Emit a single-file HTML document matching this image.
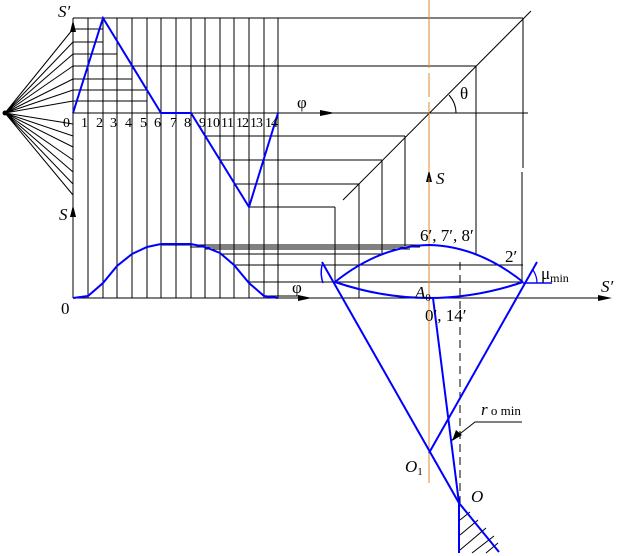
<!DOCTYPE html>
<html><head><meta charset="utf-8"><style>
html,body{margin:0;padding:0;background:#fff}
svg{display:block}
text{font-family:"Liberation Serif",serif;fill:#000}
</style></head><body>
<svg width="624" height="556" viewBox="0 0 624 556" xmlns="http://www.w3.org/2000/svg">
<g stroke="#000" stroke-width="1" fill="none">
<path d="M88 18V298M103 18V298M117 18V298M132 18V298M147 18V298M161 18V298M176 18V298M191 18V298M205 18V298M220 18V298M234 18V298M249 18V298M264 18V298M278 18V298"/>
<path d="M73 18H523M73 29H103M73 42H103M73 54H117M73 66H476M73 79H132M73 90H147M73 101H147M73 113H528"/>
<path d="M205 136H405M220 160H382M234 184H359M249 207H335"/>
<path d="M343 200L531 11"/>
<path d="M523 18V168M522 172V283M476 66V254M405 136V246M382 160V254M359 184V298M335 207V283"/>
<path d="M161 245H429M190 247H420M205 249H410M220 254H382M234 265H523M249 282H523M263 296H300"/>
<path d="M73 18V298M73 298H600"/>
<path d="M298 113H330M298 298H310"/>
<path d="M429 298V172"/>
<path d="M5 113L73 29M5 113L73 42M5 113L73 54M5 113L73 79M5 113L73 90M5 113L73 101M5 113L73 124M5 113L73 136M5 113L73 147M5 113L73 160M5 113L73 172M5 113L73 184M5 113L73 195M5 113L73 66"/>
<path d="M449 95Q456 103 456 113"/>
<path d="M460 262V505" stroke-dasharray="8,5"/>
<path d="M452 440L475 422H522"/>
<path d="M460 520L470 512M460 535L478 520M460 550L486 528M472 553L494 536M486 553L498 543"/>
</g>
<g fill="#000">
<polygon points="73,20 70,32 76,32"/>
<polygon points="73,205 70,217 76,217"/>
<polygon points="429,170 426,182 432,182"/>
<polygon points="612,298 598,295 598,301"/>
<polygon points="335,113 320,110 320,116"/>
<polygon points="312,298 298,295 298,301"/>
<polygon points="452,441 456,430 462,435"/>
<circle cx="5" cy="113" r="2.5"/>
</g>
<path d="M429 0V68M429 73V97M429 102V172M429 178V483" stroke="#e08a2c" stroke-width="1" fill="none"/>
<g stroke="#0000ff" stroke-width="2" fill="none">
<path d="M73 113L103 18L161 113H191L249 207L278 113"/>
<path d="M73 298L88 296L103 283L117 266L132 254L147 247L161 244H191L205 247L220 253L234 265L249 283L264 296L278 298"/>
<path d="M335 282Q380 246 429 245Q478 246 523 282"/>
<path d="M335 282Q429 314 523 282"/>
<path d="M322 262L459 503L499 552"/>
<path d="M537 262L429 453"/>
<path d="M433 298L459 503"/>
<path d="M459 503V553"/>
<path d="M523 283H552" stroke-width="1.5"/>
<path d="M322 265Q320 275 323 283" stroke-width="1.5"/>
<path d="M533 270Q537 276 537 283" stroke-width="1.2"/>
</g>
<g font-size="17">
<text x="58" y="17" font-style="italic">S′</text>
<text x="59" y="220" font-style="italic">S</text>
<text x="61" y="314">0</text>
<text x="297" y="108">φ</text>
<text x="292" y="293">φ</text>
<text x="460" y="99">θ</text>
<text x="436" y="184" font-style="italic">S</text>
<text x="601" y="292" font-style="italic">S′</text>
<text x="420" y="241">6′, 7′, 8′</text>
<text x="505" y="262">2′</text>
<text x="541" y="279">μ<tspan font-size="12" dy="3">min</tspan></text>
<text x="415" y="298" font-style="italic">A<tspan font-size="11" dy="3" font-style="normal">0</tspan></text>
<text x="425" y="321">0′, 14′</text>
<text x="481" y="415" font-style="italic">r<tspan font-style="normal" font-size="13"> o min</tspan></text>
<text x="405" y="472" font-style="italic">O<tspan font-size="11" dy="3" font-style="normal">1</tspan></text>
<text x="471" y="502" font-style="italic">O</text>
</g>
<g font-size="14">
<text x="63" y="127">0</text><text x="81" y="127">1</text><text x="96" y="127">2</text><text x="110" y="127">3</text><text x="125" y="127">4</text><text x="140" y="127">5</text><text x="154" y="127">6</text><text x="170" y="127">7</text><text x="184" y="127">8</text><text x="199" y="127">9</text><text x="206" y="127" textLength="14">10</text><text x="221" y="127" textLength="13">11</text><text x="236" y="127" textLength="13">12</text><text x="250" y="127" textLength="13">13</text><text x="265" y="127" textLength="13">14</text>
</g>
</svg>
</body></html>
